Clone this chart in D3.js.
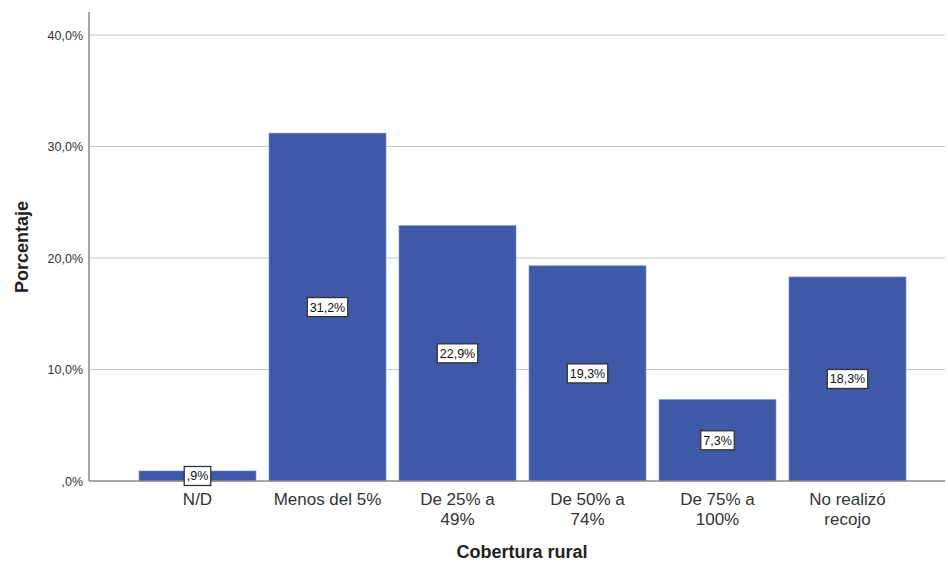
<!DOCTYPE html>
<html>
<head>
<meta charset="utf-8">
<script src="https://cdn.jsdelivr.net/npm/d3@7"></script>
<style>
  body { margin: 0; background: #fff; }
  svg { display: block; font-family: Arial, "Liberation Sans", sans-serif; }
</style>
</head>
<body>
<svg id="chart" width="948" height="563"></svg>
<script>
// Cobertura rural: share of cases per coverage bracket
const categories = ["N/D", "Menos del 5%", "De 25% a 49%", "De 50% a 74%", "De 75% a 100%", "No realizó recojo"];
const categoryLines = [["N/D"], ["Menos del 5%"], ["De 25% a", "49%"], ["De 50% a", "74%"], ["De 75% a", "100%"], ["No realizó", "recojo"]];
const percentages = [0.9, 31.2, 22.9, 19.3, 7.3, 18.3];
const yTicks = [0, 10, 20, 30, 40];

const svg = d3.select("#chart");
const axisLeft = 89, axisRight = 945, axisTop = 12, axisBottom = 481;

const x = d3.scaleBand().domain(categories).range([132.5, 912.5])
  .paddingInner(0.1).paddingOuter(0.05);
const y = d3.scaleLinear().domain([0, 40]).range([axisBottom, 35]);

// Spanish-style percentages with decimal comma and no leading zero
const pct = v => d3.format(".1f")(v).replace(".", ",").replace(/^0,/, ",") + "%";

// gridlines
svg.append("g").selectAll("line").data(yTicks.filter(d => d > 0)).join("line")
  .attr("x1", axisLeft).attr("x2", axisRight)
  .attr("y1", d => y(d)).attr("y2", d => y(d))
  .attr("stroke", "#c8c8c8").attr("stroke-width", 1.2);

// y axis
const yAxis = svg.append("g").attr("transform", `translate(${axisLeft},0)`)
  .call(d3.axisLeft(y).tickValues(yTicks).tickSize(0).tickPadding(6).tickFormat(pct));
yAxis.select(".domain").remove();
yAxis.selectAll("text").attr("font-size", 12.5).attr("fill", "#333").attr("font-family", "Arial, 'Liberation Sans', sans-serif");
svg.append("line").attr("x1", axisLeft).attr("x2", axisLeft)
  .attr("y1", axisTop).attr("y2", axisBottom)
  .attr("stroke", "#888").attr("stroke-width", 1.5);

// bars
svg.append("g").selectAll("rect").data(percentages).join("rect")
  .attr("x", (d, i) => x(categories[i]))
  .attr("width", x.bandwidth())
  .attr("y", d => y(d))
  .attr("height", d => y(0) - y(d))
  .attr("fill", "#3e59a8")
  .attr("stroke", "#7d8fc6").attr("stroke-width", 0.6);

// x axis line
svg.append("line").attr("x1", axisLeft).attr("x2", axisRight)
  .attr("y1", axisBottom).attr("y2", axisBottom)
  .attr("stroke", "#888").attr("stroke-width", 1.5);

// value labels in boxes
const lab = svg.append("g").selectAll("g").data(percentages).join("g")
  .attr("transform", (d, i) => `translate(${x(categories[i]) + x.bandwidth() / 2},${y(d / 2)})`);
lab.append("text")
  .attr("text-anchor", "middle").attr("dy", "0.36em")
  .attr("font-size", 12.5).attr("fill", "#111")
  .text(d => pct(d));
lab.each(function () {
  const g = d3.select(this);
  const bb = g.select("text").node().getBBox();
  g.insert("rect", "text")
    .attr("x", bb.x - 2.5).attr("y", -9.5)
    .attr("width", bb.width + 5).attr("height", 19)
    .attr("fill", "#fff").attr("stroke", "#333").attr("stroke-width", 1.3);
});

// category labels
const cat = svg.append("g").selectAll("text").data(categories).join("text")
  .attr("x", d => x(d) + x.bandwidth() / 2)
  .attr("y", 505)
  .attr("text-anchor", "middle").attr("font-size", 17).attr("fill", "#333");
cat.selectAll("tspan").data((d, i) => categoryLines[i]).join("tspan")
  .attr("x", function () { return d3.select(this.parentNode).attr("x"); })
  .attr("dy", (d, j) => j === 0 ? 0 : 19.5)
  .text(d => d);

// axis titles
svg.append("text").attr("x", 522).attr("y", 558)
  .attr("text-anchor", "middle").attr("font-size", 18).attr("font-weight", "bold").attr("fill", "#222")
  .text("Cobertura rural");
svg.append("text").attr("transform", "translate(28,247) rotate(-90)")
  .attr("text-anchor", "middle").attr("font-size", 18).attr("font-weight", "bold").attr("fill", "#222")
  .text("Porcentaje");
</script>
</body>
</html>
